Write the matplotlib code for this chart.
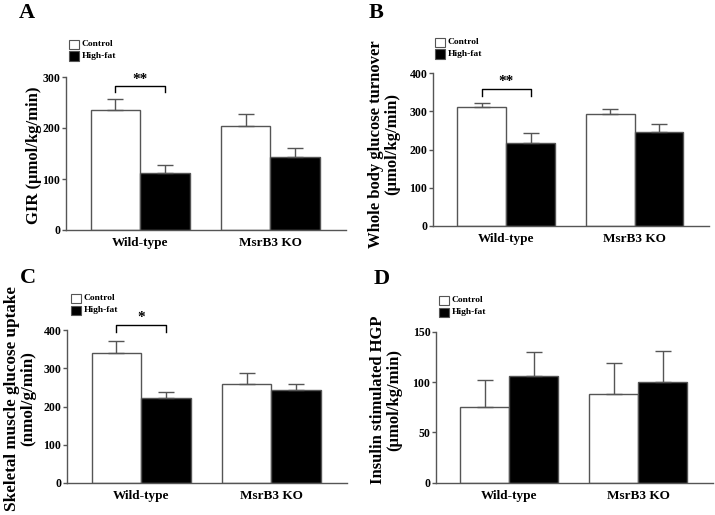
import matplotlib
matplotlib.use("Agg")
import matplotlib.pyplot as plt
from matplotlib.patches import Rectangle
import numpy as np

plt.rcParams['font.family'] = ['Liberation Serif', 'DejaVu Serif']
plt.rcParams['font.weight'] = 'bold'

groups = ["Wild-type", "MsrB3 KO"]
series = ["Control", "High-fat"]

gir_mean = {"Control": [235, 204], "High-fat": [112, 144]}
gir_err = {"Control": [22, 24], "High-fat": [15, 16]}

turn_mean = {"Control": [311, 292], "High-fat": [218, 245]}
turn_err = {"Control": [10, 15], "High-fat": [24, 22]}

musc_mean = {"Control": [340, 258], "High-fat": [221, 244]}
musc_err = {"Control": [32, 31], "High-fat": [17, 14]}

hgp_mean = {"Control": [75, 88], "High-fat": [106, 100]}
hgp_err = {"Control": [27, 31], "High-fat": [24, 31]}

W, H = 715, 515
fig = plt.figure(figsize=(W / 100, H / 100), dpi=100)

grey = '#555555'
bw = 0.38


def px_axes(l, r, t, b):
    return fig.add_axes([l / W, 1 - b / H, (r - l) / W, (b - t) / H])


def panel(ax, means, errs, ymax, step, ylabel, lab_x, lab_y, letter, letter_xy,
          legend_xy, bracket=None, lab_size=12):
    x = np.arange(len(groups))
    colors = {"Control": "white", "High-fat": "black"}
    offs = {"Control": -bw / 2, "High-fat": bw / 2}
    for s in series:
        xs = x + offs[s]
        ax.bar(xs, means[s], width=bw, color=colors[s], edgecolor=grey,
               linewidth=1.0, zorder=2)
        ax.errorbar(xs, means[s], yerr=[np.zeros(len(xs)), errs[s]], fmt='none',
                    ecolor=grey, elinewidth=1.0, capsize=5.5, capthick=1.0, zorder=3)
    ax.set_xlim(-0.57, 1.58)
    ax.set_ylim(0, ymax)
    ax.set_yticks(np.arange(0, ymax + 1, step))
    ax.set_xticks(x)
    ax.set_xticklabels(groups, fontsize=9.5, fontweight='bold')
    ax.tick_params(axis='x', length=0, pad=5)
    ax.tick_params(axis='y', length=3, width=1.0, color=grey, labelsize=8.5, pad=1)
    for lbl in ax.get_yticklabels():
        lbl.set_fontweight('bold')
    for sp in ['top', 'right']:
        ax.spines[sp].set_visible(False)
    for sp in ['left', 'bottom']:
        ax.spines[sp].set_color(grey)
        ax.spines[sp].set_linewidth(1.0)
    ax.set_ylabel(ylabel, fontsize=lab_size, fontweight='bold', linespacing=1.0)
    ax.yaxis.set_label_coords(lab_x, lab_y)
    fig.text(letter_xy[0] / W, 1 - letter_xy[1] / H, letter, fontsize=16,
             fontweight='bold', ha='left', va='top')
    # legend
    lx, ly = legend_xy
    for i, s in enumerate(series):
        y0 = ly + i * 11.5
        fig.add_artist(Rectangle((lx / W, 1 - (y0 + 9) / H), 10 / W, 9 / H,
                                 facecolor=colors[s], edgecolor=grey, linewidth=0.8,
                                 transform=fig.transFigure))
        fig.text((lx + 12.5) / W, 1 - (y0 + 4.5) / H, s, fontsize=6.8,
                 fontweight='bold', ha='left', va='center')
    if bracket is not None:
        ytop, ydrop, stars = bracket
        x0, x1 = -bw / 2, bw / 2
        ax.plot([x0, x0, x1, x1], [ydrop, ytop, ytop, ydrop], color='black',
                linewidth=1.0, clip_on=False, zorder=4)
        ax.text(0, ytop + ymax * 0.004, stars, ha='center', va='bottom',
                fontsize=11, fontweight='bold', clip_on=False)


axA = px_axes(66, 346, 77, 230)
panel(axA, gir_mean, gir_err, 300, 100, "GIR (\u03bcmol/kg/min)", -0.085, 0.49,
      "A", (19, 3), (69, 40), bracket=(282, 271, "**"))

axB = px_axes(433, 709, 73.3, 225.7)
panel(axB, turn_mean, turn_err, 400, 100,
      "Whole body glucose turnover\n(\u03bcmol/kg/min)", -0.12, 0.536,
      "B", (369, 3), (435, 38), bracket=(360, 340, "**"))

axC = px_axes(67, 347, 330.3, 482.7)
panel(axC, musc_mean, musc_err, 400, 100,
      "Skeletal muscle glucose uptake\n(nmol/g/min)", -0.11, 0.55,
      "C", (20, 268), (71, 294), bracket=(414, 396, "*"), lab_size=12.3)

axD = px_axes(436, 713, 331.7, 482.7)
panel(axD, hgp_mean, hgp_err, 150, 50,
      "Insulin stimulated HGP\n(\u03bcmol/kg/min)", -0.123, 0.55,
      "D", (374, 269), (439, 296))

fig.savefig("out.png", dpi=100)
